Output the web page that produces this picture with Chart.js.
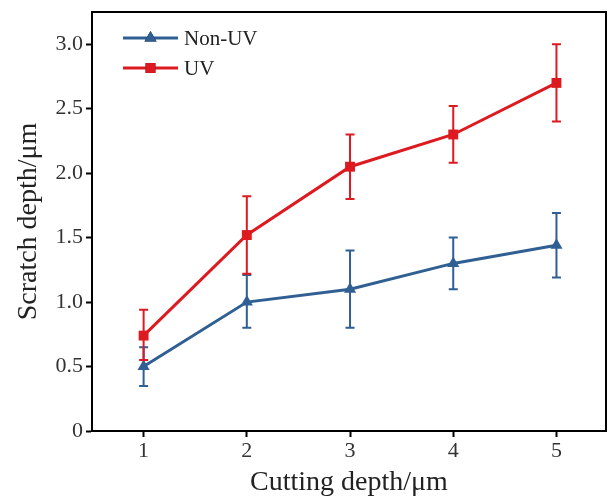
<!DOCTYPE html>
<html>
<head>
<meta charset="utf-8">
<script src="https://cdn.jsdelivr.net/npm/chart.js@4.4.1/dist/chart.umd.min.js"></script>
<style>
    html, body { margin: 0; padding: 0; background: #fff; overflow: hidden; }
    #wrap { width: 609px; height: 499px; }
    canvas { display: block; }
</style>
</head>
<body>
<div id="wrap"><canvas id="chart" width="609" height="499"></canvas></div>
<script>
// Data
const cuttingDepth = [1, 2, 3, 4, 5];
const nonUvDepth = [0.50, 1.00, 1.10, 1.30, 1.44];
const nonUvLow   = [0.35, 0.80, 0.80, 1.10, 1.19];
const nonUvHigh  = [0.65, 1.21, 1.40, 1.50, 1.69];
const uvDepth = [0.74, 1.52, 2.05, 2.30, 2.70];
const uvLow   = [0.55, 1.22, 1.80, 2.08, 2.40];
const uvHigh  = [0.94, 1.82, 2.30, 2.52, 3.00];
const xTicks = [1, 2, 3, 4, 5];
const yTicks = [0, 0.5, 1.0, 1.5, 2.0, 2.5, 3.0];

const BLUE = '#2f5f93';
const RED = '#dc1a1f';
const FONT = '"Liberation Serif", "Times New Roman", serif';

function toPoints(xs, ys) {
    return xs.map((x, i) => ({ x: x, y: ys[i] }));
}

/**
 * Draws vertical error bars with caps for each dataset
 */
const errorBars = {
    id: 'errorBars',
    afterDatasetsDraw(chart) {
        const ctx = chart.ctx;
        const xs = chart.scales.x;
        const ys = chart.scales.y;
        chart.data.datasets.forEach(ds => {
            ctx.save();
            ctx.strokeStyle = ds.borderColor;
            ctx.lineWidth = 2;
            ds.data.forEach((p, i) => {
                const px = xs.getPixelForValue(p.x);
                const top = ys.getPixelForValue(ds.errHigh[i]);
                const bot = ys.getPixelForValue(ds.errLow[i]);
                ctx.beginPath();
                ctx.moveTo(px, top); ctx.lineTo(px, bot);
                ctx.moveTo(px - 4.5, top); ctx.lineTo(px + 4.5, top);
                ctx.moveTo(px - 4.5, bot); ctx.lineTo(px + 4.5, bot);
                ctx.stroke();
            });
            ctx.restore();
        });
    }
};

/**
 * Frame around the plot area and legend inside it
 */
const frameAndLegend = {
    id: 'frameAndLegend',
    afterDraw(chart) {
        const ctx = chart.ctx;
        const a = chart.chartArea;
        ctx.save();
        ctx.strokeStyle = '#000';
        ctx.lineWidth = 2;
        ctx.strokeRect(a.left, a.top, a.right - a.left, a.bottom - a.top);

        // legend
        ctx.font = '21px ' + FONT;
        ctx.textBaseline = 'middle';
        chart.data.datasets.forEach((ds, i) => {
            const y = a.top + 26 + i * 30;
            const x0 = a.left + 31;
            ctx.strokeStyle = ds.borderColor;
            ctx.lineWidth = 3;
            ctx.beginPath();
            ctx.moveTo(x0, y); ctx.lineTo(x0 + 55, y);
            ctx.stroke();
            Chart.helpers.drawPoint(ctx, {
                pointStyle: ds.pointStyle,
                radius: ds.pointRadius,
                borderWidth: 0
            }, x0 + 27.5, y);
            ctx.fillStyle = ds.borderColor;
            ctx.fill();
            ctx.fillStyle = '#222';
            ctx.fillText(ds.label, x0 + 61, y + 1);
        });
        ctx.restore();
    }
};

const ctx = document.getElementById('chart').getContext('2d');
new Chart(ctx, {
    type: 'line',
    data: {
        datasets: [
            {
                label: 'Non-UV',
                data: toPoints(cuttingDepth, nonUvDepth),
                errLow: nonUvLow,
                errHigh: nonUvHigh,
                borderColor: BLUE,
                backgroundColor: BLUE,
                borderWidth: 3,
                pointStyle: 'triangle',
                pointRadius: 7,
                pointBorderWidth: 0
            },
            {
                label: 'UV',
                data: toPoints(cuttingDepth, uvDepth),
                errLow: uvLow,
                errHigh: uvHigh,
                borderColor: RED,
                backgroundColor: RED,
                borderWidth: 3,
                pointStyle: 'rect',
                pointRadius: 7,
                pointBorderWidth: 0
            }
        ]
    },
    options: {
        responsive: false,
        animation: false,
        layout: { autoPadding: false, padding: { top: 12, right: 3, left: 0, bottom: 0 } },
        plugins: {
            legend: { display: false },
            tooltip: { enabled: false }
        },
        scales: {
            x: {
                type: 'linear',
                min: 0.5,
                max: 5.48,
                afterBuildTicks: axis => { axis.ticks = xTicks.map(v => ({ value: v })); },
                afterFit: axis => {
                    axis.height = 68;
                    axis.paddingLeft = 0;
                    axis.paddingRight = 0;
                },
                grid: { drawOnChartArea: false, drawTicks: true, tickLength: 6, tickWidth: 2, color: '#000' },
                border: { color: '#000', width: 2 },
                ticks: { color: '#333', font: { family: FONT, size: 22 }, padding: 1 },
                title: {
                    display: true,
                    text: 'Cutting depth/μm',
                    color: '#222',
                    font: { family: FONT, size: 28 },
                    padding: { top: 0, bottom: 0 }
                }
            },
            y: {
                type: 'linear',
                min: 0,
                max: 3.25,
                afterBuildTicks: axis => { axis.ticks = yTicks.map(v => ({ value: v })); },
                afterFit: axis => {
                    axis.width = 92;
                    axis.paddingTop = 0;
                    axis.paddingBottom = 0;
                },
                grid: { drawOnChartArea: false, drawTicks: true, tickLength: 6, tickWidth: 2, color: '#000' },
                border: { color: '#000', width: 2 },
                ticks: {
                    color: '#333',
                    font: { family: FONT, size: 22 },
                    padding: 3,
                    callback: v => v === 0 ? '0' : v.toFixed(1)
                },
                title: {
                    display: true,
                    text: 'Scratch depth/μm',
                    color: '#222',
                    font: { family: FONT, size: 28 },
                    padding: { top: 12, bottom: 0 }
                }
            }
        }
    },
    plugins: [errorBars, frameAndLegend]
});
</script>
</body>
</html>
